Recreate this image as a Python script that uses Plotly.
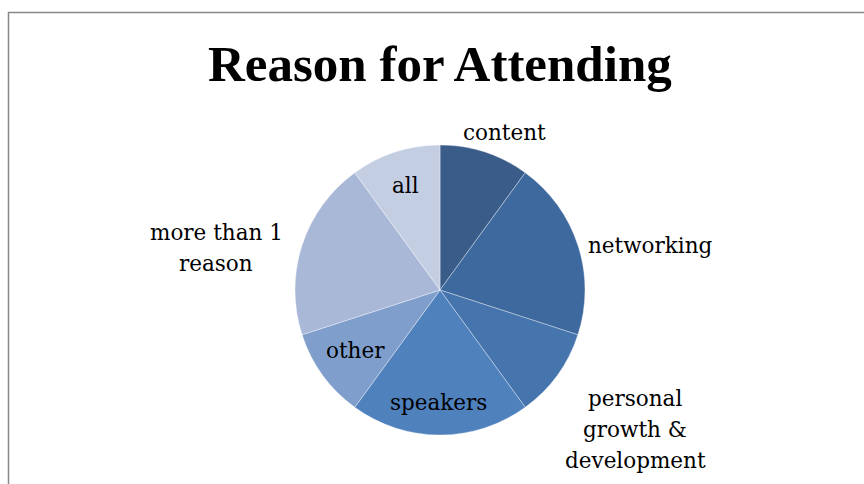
import plotly.graph_objects as go

W, H = 864, 484

labels = ["content", "networking", "personal growth & development", "speakers",
          "other", "more than 1 reason", "all"]
label_lines = [["content"], ["networking"], ["personal", "growth &", "development"], ["speakers"],
               ["other"], ["more than 1", "reason"], ["all"]]
values = [1, 2, 1, 2, 1, 2, 1]
colors = ["#3A5C89", "#3E699E", "#4675AE", "#4F81BD", "#7F9ECB", "#A9B8D7", "#C4CEE3"]
# label centres in pixels (x, y from top)
label_pos = [(505, 133), (650, 245), (635, 429), (438, 402), (355, 350), (216, 248), (405, 185)]
line_gap = 31

cx, cy, R = 440, 290, 145

fig = go.Figure(go.Pie(
    labels=labels, values=values, sort=False, direction="clockwise", rotation=0,
    marker=dict(colors=colors, line=dict(color="rgba(255,255,255,0.5)", width=0.7)),
    textinfo="none", hoverinfo="label+percent", showlegend=False,
    domain=dict(x=[(cx - R) / W, (cx + R) / W], y=[(H - cy - R) / H, (H - cy + R) / H]),
))

annotations = []
for lines, (px, py) in zip(label_lines, label_pos):
    n = len(lines)
    for i, t in enumerate(lines):
        ly = py + (i - (n - 1) / 2) * line_gap
        annotations.append(dict(
            x=px / W, y=1 - ly / H, xref="paper", yref="paper", text=t, showarrow=False,
            xanchor="center", yanchor="middle", align="center",
            font=dict(family="DejaVu Serif, serif", size=21.5, color="#000000"),
        ))
annotations.append(dict(
    x=440 / W, y=1 - 64 / H, xref="paper", yref="paper", text="<b>Reason for Attending</b>",
    showarrow=False, xanchor="center", yanchor="middle",
    font=dict(family="Liberation Serif, DejaVu Serif, serif", size=51, color="#000000"),
))

fig.update_layout(
    width=W, height=H, margin=dict(l=0, r=0, t=0, b=0),
    paper_bgcolor="white", plot_bgcolor="white",
    annotations=annotations,
    shapes=[dict(type="rect", xref="paper", yref="paper",
                 x0=8.5 / W, x1=880 / W, y0=-20 / H, y1=1 - 12.5 / H,
                 line=dict(color="#878787", width=1.5), fillcolor="rgba(0,0,0,0)", layer="below")],
)

fig.write_html("out.html")
